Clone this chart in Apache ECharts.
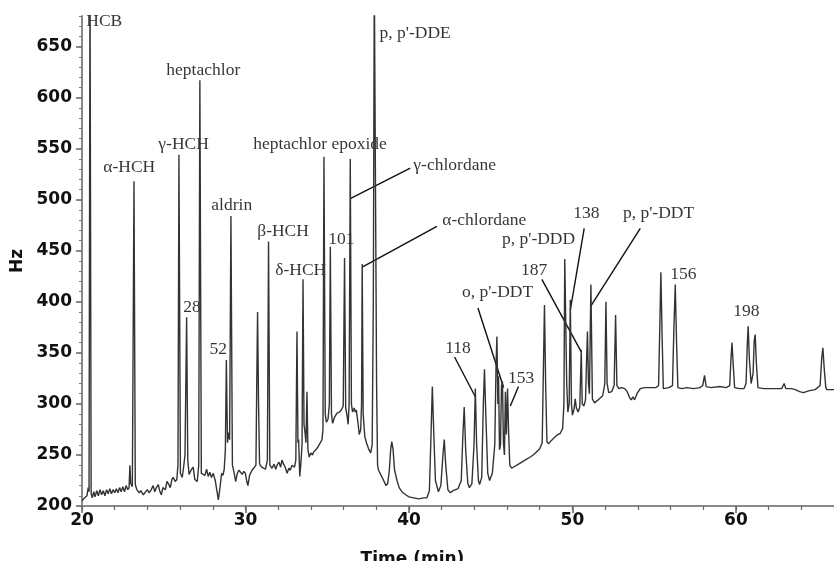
<!DOCTYPE html>
<html>
<head>
<meta charset="utf-8">
<title>Chromatogram</title>
<script src="https://cdn.jsdelivr.net/npm/echarts@6/dist/echarts.min.js"></script>
<style>
  html, body { margin: 0; padding: 0; background: #fff; }
  #chart { width: 834px; height: 561px; }
</style>
</head>
<body>
<div id="chart"></div>
<script type="text/javascript">
// retention time (min), signal (Hz)
var trace20 = [
  [20.0, 205], [20.1, 207], [20.2, 206], [20.3, 210], [20.38, 218], [20.43, 214], [20.49, 720], [20.56, 212],
  [20.63, 208], [20.72, 214], [20.8, 209], [20.9, 215], [21.0, 210], [21.1, 216], [21.2, 211], [21.3, 215],
  [21.4, 210], [21.5, 216], [21.6, 212], [21.7, 217], [21.8, 212], [21.9, 216], [22.0, 213], [22.1, 217],
  [22.2, 213], [22.3, 218], [22.4, 214], [22.5, 219], [22.6, 214], [22.7, 220], [22.8, 216], [22.88, 218],
  [22.93, 240], [22.98, 222], [23.08, 219], [23.18, 518], [23.26, 221], [23.35, 216], [23.5, 213], [23.6, 215],
  [23.75, 211], [23.85, 212], [24.0, 216], [24.1, 213], [24.2, 215], [24.35, 220], [24.45, 214], [24.55, 218],
  [24.67, 221], [24.75, 215], [24.85, 211], [24.95, 218], [25.1, 216], [25.2, 224], [25.28, 222], [25.4, 218],
  [25.5, 226], [25.58, 228], [25.7, 224], [25.8, 226], [25.87, 240], [25.93, 544], [26.02, 232], [26.13, 228],
  [26.2, 236], [26.3, 250], [26.4, 385], [26.47, 245], [26.55, 231], [26.7, 236], [26.8, 238], [26.9, 226],
  [27.05, 224], [27.14, 240], [27.21, 617], [27.3, 232], [27.42, 232], [27.52, 230], [27.62, 236], [27.72, 229],
  [27.82, 233], [27.92, 228], [28.03, 232], [28.15, 225], [28.25, 215], [28.34, 206], [28.44, 218], [28.54, 232],
  [28.62, 230], [28.7, 236], [28.77, 255], [28.83, 343], [28.9, 262], [28.96, 272], [29.03, 265], [29.11, 484],
  [29.2, 240], [29.3, 233], [29.4, 224], [29.5, 232], [29.6, 235], [29.68, 234], [29.8, 231], [29.9, 234],
  [29.99, 232], [30.08, 224], [30.15, 220], [30.25, 230], [30.4, 235], [30.55, 238], [30.64, 240], [30.69, 320],
  [30.74, 390], [30.8, 300], [30.86, 242]
];
var trace30 = [
  [30.9, 240], [31.0, 238], [31.1, 238], [31.22, 236], [31.34, 245], [31.41, 459], [31.49, 240], [31.62, 237],
  [31.75, 241], [31.85, 236], [31.93, 240], [32.05, 243], [32.15, 238], [32.23, 245], [32.33, 241], [32.43, 238],
  [32.55, 232], [32.65, 237], [32.74, 235], [32.85, 240], [33.0, 238], [33.08, 245], [33.15, 371], [33.21, 262],
  [33.25, 265], [33.32, 229], [33.38, 240], [33.46, 260], [33.52, 422], [33.58, 280], [33.64, 272], [33.7, 262],
  [33.76, 312], [33.82, 255], [33.9, 248], [34.0, 252], [34.1, 250], [34.17, 253], [34.3, 255], [34.4, 257],
  [34.47, 258], [34.58, 262], [34.68, 265], [34.74, 275], [34.8, 542], [34.88, 290], [34.95, 282], [35.05, 285],
  [35.13, 300], [35.19, 454], [35.26, 290], [35.33, 281], [35.45, 287], [35.6, 291], [35.75, 292], [35.86, 294],
  [35.98, 298], [36.06, 443], [36.13, 296], [36.21, 289], [36.28, 280], [36.34, 300], [36.41, 540], [36.48, 300],
  [36.55, 292], [36.65, 296], [36.72, 292], [36.78, 294], [36.88, 282], [36.96, 270], [37.05, 275], [37.1, 300],
  [37.14, 437], [37.2, 290], [37.3, 268], [37.4, 262], [37.53, 256], [37.66, 252], [37.75, 260], [37.82, 400],
  [37.88, 720], [37.96, 720], [38.02, 320], [38.08, 240], [38.14, 235], [38.3, 230], [38.45, 225], [38.6, 220],
  [38.7, 222], [38.8, 235], [38.88, 255], [38.95, 263], [39.03, 255], [39.12, 235], [39.27, 225], [39.4, 218],
  [39.57, 214], [39.8, 211], [40.0, 209]
];
var trace40 = [
  [40.3, 208], [40.6, 207], [40.9, 208], [41.1, 208], [41.25, 215], [41.35, 270], [41.43, 317], [41.52, 270],
  [41.62, 225], [41.8, 214], [41.95, 220], [42.08, 250], [42.16, 265], [42.25, 240], [42.38, 216], [42.53, 213],
  [42.7, 215], [43.0, 217], [43.2, 225], [43.3, 270], [43.38, 297], [43.47, 255], [43.6, 222], [43.7, 218],
  [43.85, 222], [43.98, 260], [44.06, 315], [44.14, 260], [44.25, 225], [44.32, 221], [44.45, 228], [44.55, 300],
  [44.62, 334], [44.7, 290], [44.82, 232], [44.93, 225], [45.1, 232], [45.25, 260], [45.33, 340], [45.38, 366],
  [45.44, 300], [45.48, 327], [45.54, 255], [45.6, 260], [45.66, 318], [45.72, 322], [45.78, 262], [45.84, 250],
  [45.9, 312], [45.96, 270], [46.03, 315], [46.1, 270], [46.17, 240], [46.28, 237], [46.4, 238], [46.6, 240],
  [46.8, 242], [47.0, 244], [47.2, 246], [47.42, 248], [47.6, 250], [47.8, 253], [48.0, 256], [48.15, 262],
  [48.22, 330], [48.29, 397], [48.36, 320], [48.44, 263], [48.54, 261], [48.7, 264], [48.9, 267], [49.1, 270],
  [49.25, 271], [49.4, 276], [49.48, 300], [49.53, 442], [49.58, 442], [49.65, 320], [49.72, 292], [49.8, 300],
  [49.87, 402], [49.94, 300], [50.0, 289]
];
var trace50 = [
  [50.1, 295], [50.17, 305], [50.24, 296], [50.35, 292], [50.45, 297], [50.54, 353], [50.6, 300], [50.7, 298],
  [50.8, 304], [50.87, 345], [50.92, 371], [50.98, 320], [51.04, 310], [51.13, 417], [51.22, 305], [51.35, 301],
  [51.5, 303], [51.65, 305], [51.85, 308], [51.98, 320], [52.05, 400], [52.12, 320], [52.22, 311], [52.4, 312],
  [52.55, 318], [52.64, 387], [52.72, 318], [52.85, 315], [53.0, 316], [53.2, 315], [53.35, 312], [53.5, 306],
  [53.6, 304], [53.7, 307], [53.8, 304], [53.95, 310], [54.15, 315], [54.4, 316], [54.8, 316], [55.1, 316],
  [55.27, 318], [55.35, 380], [55.41, 429], [55.48, 370], [55.56, 315], [55.65, 314], [55.9, 316], [56.12, 318],
  [56.2, 370], [56.29, 417], [56.37, 360], [56.45, 316], [56.7, 315], [57.0, 316], [57.4, 315], [57.8, 316],
  [57.97, 318], [58.08, 328], [58.18, 317], [58.5, 316], [59.0, 317], [59.4, 316], [59.62, 318], [59.7, 345],
  [59.76, 360], [59.83, 340], [59.92, 316], [60.2, 315], [60.5, 315], [60.62, 320], [60.7, 360], [60.75, 376],
  [60.82, 345], [60.93, 320], [61.05, 330], [61.12, 362], [61.18, 368], [61.25, 340], [61.35, 316], [61.7, 315],
  [62.0, 315], [62.4, 315], [62.8, 315], [62.95, 320], [63.05, 315], [63.4, 315], [63.63, 314], [63.9, 312],
  [64.13, 311], [64.5, 313], [64.85, 314], [65.15, 318], [65.25, 345], [65.32, 355], [65.4, 335], [65.5, 316],
  [65.56, 314], [66.0, 314]
];

// peak labels: name, time at left edge of text, Hz at text middle
var peakNames = ['HCB', 'α-HCH', 'γ-HCH', 'heptachlor', '28', 'aldrin', '52', 'β-HCH', 'δ-HCH',
  'heptachlor epoxide', '101', 'p, p\'-DDE', 'γ-chlordane', 'α-chlordane', '118', 'o, p\'-DDT', '153',
  'p, p\'-DDD', '187', '138', 'p, p\'-DDT', '156', '198'];
var peakLabelX = [20.26, 21.30, 24.67, 25.16, 26.2, 27.91, 27.8, 30.72, 31.82,
  30.47, 35.06, 38.2, 40.27, 42.04, 42.22, 43.24, 46.06,
  45.69, 46.85, 50.05, 53.09, 55.99, 59.83];
var peakLabelY = [675, 532, 554, 627, 395, 494, 353, 469, 431,
  554, 461, 663, 534, 480, 354, 409, 325,
  461, 431, 487, 487, 427, 391];

// leader lines from label to peak
var leaders = [
  [[40.08, 531], [36.41, 501]],
  [[41.71, 474], [37.14, 434]],
  [[42.79, 346], [44.06, 307]],
  [[44.22, 394], [45.79, 316]],
  [[46.70, 317], [46.2, 298]],
  [[48.13, 422], [50.54, 351]],
  [[50.72, 472], [49.87, 392]],
  [[54.15, 472], [51.13, 396]]
];

var trace = trace20.concat(trace30, trace40, trace50);

var labelData = [];
for (var i = 0; i < peakNames.length; i++) {
  labelData.push({ name: peakNames[i], value: [peakLabelX[i], peakLabelY[i]] });
}
var leaderData = [];
for (var j = 0; j < leaders.length; j++) {
  leaderData.push({ coords: leaders[j] });
}

var axisFont = { color: '#111', fontFamily: 'DejaVu Sans', fontWeight: 'bold', fontSize: 17 };

var chart = echarts.init(document.getElementById('chart'));
var option = {
  animation: false,
  grid: { left: 82, right: 0, top: 16, bottom: 55, containLabel: false, outerBoundsMode: 'none' },
  xAxis: [
    {
      type: 'value', min: 20, max: 66, interval: 10, position: 'bottom',
      name: 'Time (min)', nameLocation: 'middle', nameGap: 45,
      nameTextStyle: { color: '#111', fontFamily: 'DejaVu Sans', fontWeight: 'bold', fontSize: 17, padding: [0, 91, 0, 0] },
      axisLine: { show: true, lineStyle: { color: '#8a8a8a', width: 2 } },
      axisTick: { show: true, length: 7, lineStyle: { color: '#666', width: 1.5 } },
      axisLabel: Object.assign({ margin: 6, showMaxLabel: false }, axisFont),
      splitLine: { show: false }
    },
    {
      type: 'value', min: 20, max: 66, interval: 2, position: 'bottom',
      axisLine: { show: false },
      axisTick: { show: true, length: 4, lineStyle: { color: '#666', width: 1.2 } },
      axisLabel: { show: false },
      splitLine: { show: false }
    }
  ],
  yAxis: [
    {
      type: 'value', min: 200, max: 680, interval: 50, position: 'left',
      name: 'Hz', nameLocation: 'middle', nameGap: 55,
      nameTextStyle: { color: '#111', fontFamily: 'DejaVu Sans', fontWeight: 'bold', fontSize: 17 },
      axisLine: { show: true, lineStyle: { color: '#8a8a8a', width: 2 } },
      axisTick: { show: true, length: 6, lineStyle: { color: '#666', width: 1.5 } },
      axisLabel: Object.assign({ margin: 10, showMaxLabel: false }, axisFont),
      splitLine: { show: false }
    },
    {
      type: 'value', min: 200, max: 680, interval: 10, position: 'left',
      axisLine: { show: false },
      axisTick: { show: true, length: 3, lineStyle: { color: '#777', width: 1 } },
      axisLabel: { show: false },
      splitLine: { show: false }
    }
  ],
  series: [
    {
      name: 'signal', type: 'line', xAxisIndex: 0, yAxisIndex: 0,
      data: trace, showSymbol: false, symbol: 'none', clip: true,
      lineStyle: { color: '#333', width: 1.4 }
    },
    {
      name: 'leaders', type: 'lines', coordinateSystem: 'cartesian2d', xAxisIndex: 0, yAxisIndex: 0,
      data: leaderData, symbol: 'none', silent: true,
      lineStyle: { color: '#111', width: 1.4, opacity: 1 }
    },
    {
      name: 'labels', type: 'scatter', xAxisIndex: 0, yAxisIndex: 0,
      data: labelData, symbolSize: 0, silent: true,
      label: {
        show: true, position: 'right', distance: 0, formatter: '{b}',
        color: '#000', fontFamily: 'Liberation Serif', fontSize: 17.5
      }
    }
  ]
};
chart.setOption(option);
</script>
</body>
</html>
